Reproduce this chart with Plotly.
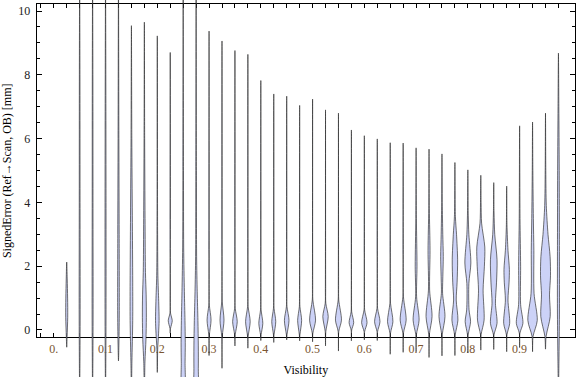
import plotly.graph_objects as go

# ---------------- data ----------------
visibility = [0.025 * k for k in range(1, 40)]

# knots of each smoothed density outline: error values [mm] and half-widths (density, px-like units)
violin_y = [
    [-0.54, -0.2, 0.4, 1.0, 1.6, 2.13],
    [-2.0, -1.0, 0.5, 4.0, 8.0, 11.0],
    [-2.0, -1.0, 0.5, 4.0, 8.0, 11.0],
    [-2.0, -1.0, 0.5, 4.0, 8.0, 11.0],
    [-0.97, -0.5, 0.5, 3.0, 6.0, 11.0],
    [-2.0, -1.0, 0.3, 1.5, 3.6, 6.0, 9.54],
    [-2.0, -1.0, -0.3, 0.4, 1.1, 1.8, 3.5, 6.0, 9.65],
    [-1.33, -0.6, -0.1, 0.3, 0.9, 1.7, 3.0, 9.22],
    [-0.1, 0.05, 0.29, 0.53, 1.0, 8.70],
    [-2.0, -1.0, -0.4, 0.3, 1.2, 2.6, 5.0, 11.0],
    [-2.0, -1.2, -0.5, 0.3, 1.2, 2.3, 5.0, 11.0],
    [-0.80, -0.16, 0.31, 0.78, 1.2, 9.37],
    [-1.20, -0.20, 0.31, 0.88, 1.3, 9.06],
    [-0.50, -0.15, 0.26, 0.68, 1.1, 8.76],
    [-0.57, -0.20, 0.26, 0.73, 1.1, 8.64],
    [-0.33, -0.15, 0.21, 0.63, 1.0, 7.82],
    [-0.39, -0.15, 0.26, 0.68, 1.1, 7.40],
    [-0.31, -0.15, 0.30, 0.73, 1.1, 7.33],
    [-0.34, -0.15, 0.30, 0.73, 1.1, 7.04],
    [-0.37, -0.10, 0.31, 0.94, 1.4, 7.24],
    [-0.50, -0.05, 0.42, 0.84, 1.3, 6.90],
    [-0.66, -0.05, 0.31, 0.94, 1.4, 6.80],
    [-0.34, 0.00, 0.23, 0.57, 1.0, 6.27],
    [-0.31, -0.05, 0.23, 0.63, 1.0, 6.09],
    [-0.33, -0.05, 0.26, 0.68, 1.1, 5.99],
    [-0.76, -0.10, 0.26, 0.84, 1.3, 5.87],
    [-0.70, -0.10, 0.31, 1.04, 1.6, 5.86],
    [-0.68, -0.15, 0.31, 1.04, 2.0, 3.5, 5.71],
    [-0.86, -0.15, 0.42, 1.25, 2.5, 3.8, 5.67],
    [-0.81, -0.15, 0.42, 1.15, 1.6, 2.3, 3.0, 4.0, 5.52],
    [-0.80, -0.16, 0.31, 0.94, 1.5, 2.2, 3.0, 3.55, 5.25],
    [-0.71, -0.16, 0.26, 0.63, 1.46, 2.1, 3.0, 3.6, 5.02],
    [-0.63, -0.15, 0.31, 1.25, 2.0, 2.6, 3.35, 4.0, 4.85],
    [-0.61, -0.15, 0.21, 0.84, 1.5, 2.2, 3.0, 3.7, 4.62],
    [-0.68, -0.15, 0.21, 0.94, 1.5, 1.9, 2.5, 3.3, 4.51],
    [-0.55, -0.10, 0.21, 0.80, 2.0, 3.5, 6.40],
    [-0.68, -0.20, 0.30, 1.15, 2.5, 3.5, 5.0, 6.52],
    [-0.60, -0.20, 0.42, 1.10, 1.7, 2.3, 3.0, 3.9, 5.0, 6.80],
    [-2.0, -1.0, 0.5, 2.0, 5.0, 7.0, 8.68],
]
violin_w = [
    [0, 0.4, 1.0, 0.9, 0.5, 0],
    [0, 0.3, 0.5, 0.4, 0.3, 0],
    [0, 0.3, 0.5, 0.4, 0.3, 0],
    [0, 0.3, 0.5, 0.5, 0.3, 0],
    [0, 0.4, 0.8, 0.7, 0.4, 0],
    [0, 0.5, 1.3, 1.3, 0.9, 0.4, 0],
    [0, 0.6, 1.6, 2.0, 1.8, 1.1, 0.7, 0.3, 0],
    [0, 0.4, 1.3, 1.8, 1.4, 0.6, 0.3, 0],
    [0, 0.3, 2.0, 0.3, 0.15, 0],
    [1.2, 1.9, 2.1, 1.8, 1.2, 0.5, 0.3, 0],
    [1.5, 2.2, 2.2, 1.8, 1.1, 0.5, 0.3, 0],
    [0, 0.3, 2.0, 0.3, 0.15, 0],
    [0, 0.3, 2.0, 0.3, 0.15, 0],
    [0, 0.3, 2.3, 0.3, 0.15, 0],
    [0, 0.3, 2.3, 0.3, 0.15, 0],
    [0, 0.3, 2.0, 0.3, 0.15, 0],
    [0, 0.3, 2.0, 0.3, 0.15, 0],
    [0, 0.3, 2.3, 0.3, 0.15, 0],
    [0, 0.3, 2.0, 0.3, 0.15, 0],
    [0, 0.3, 3.0, 0.3, 0.15, 0],
    [0, 0.3, 2.7, 0.3, 0.15, 0],
    [0, 0.3, 3.0, 0.3, 0.15, 0],
    [0, 0.3, 2.3, 0.3, 0.15, 0],
    [0, 0.3, 2.7, 0.3, 0.15, 0],
    [0, 0.3, 2.7, 0.3, 0.15, 0],
    [0, 0.3, 2.7, 0.3, 0.15, 0],
    [0, 0.3, 3.0, 0.3, 0.15, 0],
    [0, 0.3, 3.0, 0.5, 0.9, 0.3, 0],
    [0, 0.3, 3.0, 0.6, 1.0, 0.3, 0],
    [0, 0.3, 3.0, 0.6, 0.8, 1.3, 0.8, 0.3, 0],
    [0, 0.3, 3.0, 1.3, 2.2, 2.7, 1.6, 0.5, 0],
    [0, 0.3, 2.7, 1.2, 1.0, 3.0, 1.0, 0.4, 0],
    [0, 0.3, 3.3, 2.3, 3.6, 4.0, 0.8, 0.3, 0],
    [0, 0.3, 3.3, 1.7, 2.8, 3.3, 1.0, 0.3, 0],
    [0, 0.3, 3.0, 1.3, 2.4, 2.7, 1.3, 0.3, 0],
    [0, 0.3, 3.3, 1.0, 1.0, 0.4, 0],
    [0, 0.5, 4.7, 1.5, 1.3, 0.8, 0.3, 0],
    [0, 0.6, 4.7, 4.0, 5.0, 4.6, 2.5, 0.8, 0.3, 0],
    [0, 0.5, 1.0, 1.0, 0.8, 0.4, 0],
]

x_tick_vals = [0.0, 0.1, 0.2, 0.3, 0.4, 0.5, 0.6, 0.7, 0.8, 0.9]
x_tick_text = ["0.", "0.1", "0.2", "0.3", "0.4", "0.5", "0.6", "0.7", "0.8", "0.9"]
x_minor_vals = [0.025 * k for k in range(-1, 40)]
y_tick_vals = [0, 2, 4, 6, 8, 10]

# ---------------- layout geometry ----------------
W, H = 576, 377
x_range = [-0.033, 1.007]
y_range = [-0.229, 10.21]
x_dom = [36.7 / W, 575.0 / W]
y_dom = [(H - 337.3) / H, (H - 4.3) / H]


def full_range(r, d):
    s = (r[1] - r[0]) / (d[1] - d[0])
    return [r[0] - d[0] * s, r[1] + (1 - d[1]) * s]


x2_range = full_range(x_range, x_dom)
y2_range = full_range(y_range, y_dom)
density_scale = (x_range[1] - x_range[0]) / ((x_dom[1] - x_dom[0]) * W)

FILL = "rgb(204,210,247)"
EDGE = "rgba(40,40,40,0.65)"
FONT = "Liberation Serif"

fig = go.Figure()

# frame-only trace on the main axes so they render
fig.add_trace(go.Scatter(x=[None], y=[None], xaxis="x", yaxis="y",
                         showlegend=False, hoverinfo="skip"))

for xc, ys, ws in zip(visibility, violin_y, violin_w):
    right_x = [xc + w * density_scale for w in ws]
    right_y = list(ys)
    left_pairs = [(xc - w * density_scale, y) for y, w in zip(ys, ws)]
    left_pairs = left_pairs[::-1]
    # avoid duplicated tip points
    if ws[-1] == 0:
        left_pairs = left_pairs[1:]
    if ws[0] == 0:
        left_pairs = left_pairs[:-1]
    px = right_x + [p[0] for p in left_pairs]
    py = right_y + [p[1] for p in left_pairs]
    px.append(px[0])
    py.append(py[0])
    fig.add_trace(go.Scatter(
        x=px, y=py, xaxis="x2", yaxis="y2", mode="lines",
        line=dict(color=EDGE, width=1, shape="spline", smoothing=0.8),
        fill="toself", fillcolor=FILL, showlegend=False, hoverinfo="skip"))

fig.update_layout(
    width=W, height=H,
    margin=dict(l=0, r=0, t=0, b=0),
    paper_bgcolor="white", plot_bgcolor="rgba(0,0,0,0)",
    font=dict(family=FONT, size=12, color="black"),
    showlegend=False,
    xaxis=dict(
        domain=x_dom, range=x_range, anchor="y",
        showline=True, linecolor="black", linewidth=1, mirror="ticks",
        showgrid=False, zeroline=False,
        tickmode="array", tickvals=x_tick_vals, ticktext=x_tick_text,
        ticks="inside", ticklen=4, tickcolor="black", tickwidth=1,
        tickfont=dict(family=FONT, size=12, color="#7a5530"),
        minor=dict(tickmode="array", tickvals=x_minor_vals, ticks="inside",
                   ticklen=4, tickcolor="black", tickwidth=1, showgrid=False),
        title=dict(text="Visibility", standoff=10,
                   font=dict(family=FONT, size=12, color="black")),
        automargin=False,
    ),
    yaxis=dict(
        domain=y_dom, range=y_range, anchor="x",
        showline=True, linecolor="black", linewidth=1, mirror="ticks",
        showgrid=False, zeroline=False,
        tickmode="array", tickvals=y_tick_vals,
        ticks="inside", ticklen=5, tickcolor="black", tickwidth=1,
        ticklabelstandoff=3,
        tickfont=dict(family=FONT, size=12, color="#222222"),
        minor=dict(dtick=0.5, tick0=0, ticks="inside", ticklen=3,
                   tickcolor="black", tickwidth=1, showgrid=False),
        title=dict(text="SignedError (Ref\u2192Scan, OB) [mm]", standoff=6,
                   font=dict(family=FONT, size=12, color="black")),
        automargin=False,
    ),
    xaxis2=dict(domain=[0, 1], range=x2_range, anchor="y2", visible=False,
                showgrid=False, zeroline=False),
    yaxis2=dict(domain=[0, 1], range=y2_range, anchor="x2", visible=False,
                showgrid=False, zeroline=False),
)

# remove the browser's default 8px page margin so the figure sits at the page origin
fig.write_html("out.html",
               config={"displayModeBar": False},
               post_script="document.body.style.margin='0';document.body.style.overflow='hidden';")
